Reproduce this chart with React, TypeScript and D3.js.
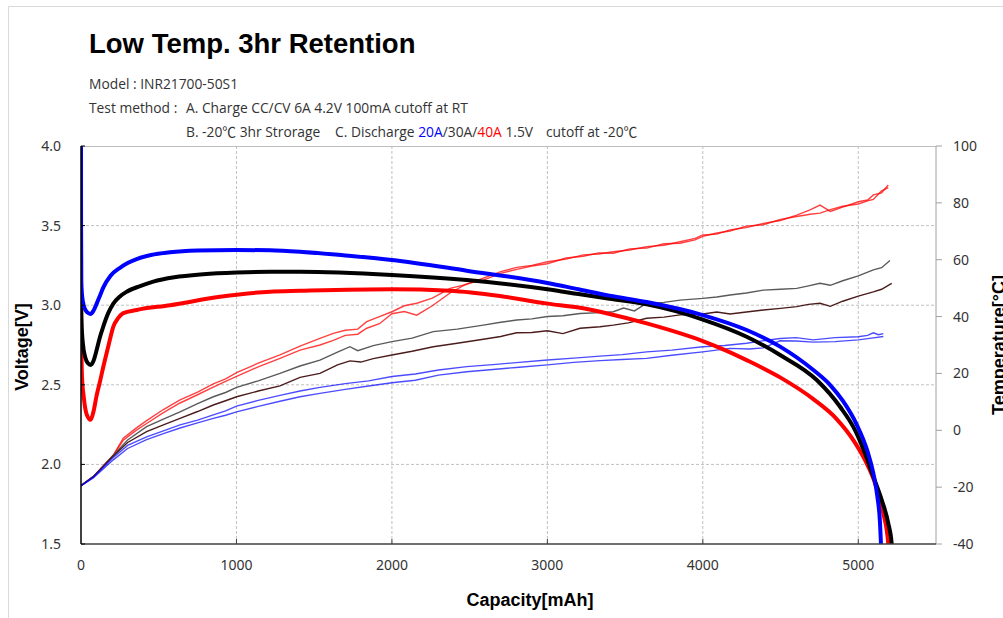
import React from "react";
import * as d3 from "d3";

// ---------- data ----------
const X_TICKS = [0, 1000, 2000, 3000, 4000, 5000];
const V_TICKS = [1.5, 2.0, 2.5, 3.0, 3.5, 4.0];
const T_TICKS = [-40, -20, 0, 20, 40, 60, 80, 100];

// Voltage [mAh, V]
const volt20A: [number, number][] = [
  [0, 4.0], [0.5, 3.5], [2, 3.15], [8, 3.05], [20, 2.99], [40, 2.955], [62, 2.945], [80, 2.965],
  [101, 3.01], [122, 3.06], [143, 3.11], [190, 3.185], [251, 3.235], [300, 3.265], [358, 3.29],
  [450, 3.315], [573, 3.332], [750, 3.343], [1000, 3.347], [1216, 3.345], [1409, 3.336],
  [1700, 3.312], [2000, 3.284], [2481, 3.217], [3000, 3.14], [3200, 3.1], [3400, 3.06],
  [3639, 3.02], [4000, 2.938], [4282, 2.844], [4497, 2.74], [4711, 2.593], [4818, 2.5],
  [4900, 2.4], [4990, 2.25], [5060, 2.08], [5097, 1.944], [5123, 1.797], [5140, 1.63],
  [5146, 1.5], [5150, 1.42],
];
const volt30A: [number, number][] = [
  [0, 3.04], [3, 2.9], [12, 2.76], [28, 2.67], [45, 2.635], [62, 2.625], [80, 2.65],
  [101, 2.72], [122, 2.8], [143, 2.865], [175, 2.95], [208, 3.01], [250, 3.055], [294, 3.085],
  [380, 3.12], [465, 3.148], [600, 3.175], [787, 3.194], [1000, 3.205], [1216, 3.21],
  [1409, 3.21], [2000, 3.19], [2481, 3.158], [3000, 3.1], [3200, 3.07], [3400, 3.04],
  [3639, 3.005], [4000, 2.91], [4282, 2.802], [4497, 2.687], [4733, 2.53], [4883, 2.362],
  [4979, 2.216], [5043, 2.07], [5097, 1.923], [5151, 1.776], [5193, 1.63], [5215, 1.5],
  [5220, 1.42],
];
const volt40A: [number, number][] = [
  [0, 3.06], [2, 2.8], [6, 2.56], [18, 2.42], [38, 2.31], [62, 2.28], [80, 2.33], [100, 2.43],
  [122, 2.52], [145, 2.62], [165, 2.7], [185, 2.78], [208, 2.865], [240, 2.92], [272, 2.95],
  [358, 2.97], [573, 3.0], [894, 3.053], [1216, 3.085], [1409, 3.09], [2000, 3.1],
  [2374, 3.091], [2695, 3.058], [3000, 3.01], [3200, 2.985], [3400, 2.945], [3639, 2.886],
  [3800, 2.84], [4000, 2.775], [4150, 2.715], [4282, 2.655], [4500, 2.545], [4711, 2.41],
  [4861, 2.285], [4968, 2.153], [5043, 2.028], [5108, 1.881], [5161, 1.693], [5193, 1.5],
  [5198, 1.42],
];

// Temperature [mAh, °C]
const temp40A_a: [number, number][] = [
  [0, -19.5], [79, -16.3], [208, -8.7], [272, -2.8], [350, 0.6], [422, 3.4], [530, 7.3],
  [637, 10.7], [750, 13.4], [851, 16.3], [930, 18.1], [1001, 20.3], [1140, 23.6], [1280, 26.5],
  [1409, 29.6], [1537, 32.3], [1623, 34.1], [1700, 35.2], [1780, 35.6], [1838, 38.2],
  [1920, 40.0], [2000, 41.7], [2080, 43.8], [2160, 44.7], [2260, 46.5], [2374, 49.9],
  [2480, 51.3], [2588, 53.5], [2700, 55.8], [2803, 57.3], [2900, 58.0], [3000, 59.3],
  [3120, 60.2], [3231, 61.7], [3330, 62.0], [3424, 62.8], [3530, 63.4], [3639, 64.6],
  [3750, 65.1], [3853, 66.3], [3950, 67.5], [4000, 68.7], [4090, 69.0], [4175, 70.5],
  [4280, 71.3], [4389, 72.8], [4500, 73.8], [4604, 75.7], [4690, 77.5], [4754, 79.2],
  [4820, 77.0], [4900, 78.5], [5000, 80.4], [5060, 81.0], [5097, 82.8], [5150, 83.5], [5193, 86.3],
];
const temp40A_b: [number, number][] = [
  [0, -19.5], [79, -16.3], [208, -8.9], [272, -3.5], [350, -0.2], [422, 2.4], [530, 6.2],
  [637, 9.6], [750, 12.5], [851, 15.2], [930, 17.2], [1001, 19.0], [1140, 22.3], [1280, 25.3],
  [1409, 28.2], [1537, 30.0], [1623, 31.6], [1700, 33.4], [1780, 33.8], [1838, 35.9],
  [1920, 37.5], [2000, 41.0], [2080, 41.8], [2160, 40.5], [2260, 43.8], [2374, 48.3],
  [2480, 51.5], [2588, 52.8], [2700, 55.2], [2803, 56.6], [2900, 57.8], [3000, 58.6],
  [3120, 60.6], [3231, 61.2], [3330, 62.4], [3424, 62.3], [3530, 63.8], [3639, 64.1],
  [3750, 65.6], [3853, 65.8], [3950, 67.0], [4000, 68.2], [4090, 69.4], [4175, 70.1],
  [4280, 71.8], [4389, 72.3], [4500, 74.2], [4604, 75.2], [4690, 76.0], [4754, 76.4],
  [4820, 77.6], [4900, 78.8], [5000, 79.6], [5060, 80.7], [5097, 81.2], [5150, 84.2], [5193, 85.4],
];
const temp30A_a: [number, number][] = [
  [0, -19.5], [79, -16.3], [208, -8.8], [300, -3.4], [422, 1.3], [530, 3.9], [637, 6.5],
  [750, 9.4], [851, 11.8], [930, 13.3], [1001, 15.1], [1140, 17.4], [1280, 20.0], [1409, 22.6],
  [1537, 24.7], [1650, 27.5], [1730, 29.4], [1780, 28.0], [1880, 29.8], [2000, 31.2],
  [2130, 32.4], [2266, 34.7], [2420, 35.6], [2588, 37.0], [2700, 38.0], [2803, 38.8],
  [2900, 39.2], [3000, 40.0], [3100, 40.3], [3210, 41.1], [3339, 41.4], [3424, 41.7],
  [3490, 43.0], [3560, 42.0], [3639, 44.7], [3750, 45.0], [3853, 45.8], [4000, 46.4],
  [4090, 46.9], [4175, 47.6], [4280, 48.3], [4389, 49.3], [4500, 49.6], [4604, 49.9],
  [4680, 50.8], [4754, 51.7], [4820, 51.0], [4900, 52.6], [5000, 54.3], [5097, 56.4],
  [5150, 57.2], [5204, 59.7],
];
const temp30A_b: [number, number][] = [
  [0, -19.5], [79, -16.3], [208, -9.0], [300, -4.3], [422, -0.5], [530, 1.9], [637, 4.2],
  [750, 6.6], [851, 8.9], [930, 10.4], [1001, 11.8], [1140, 13.8], [1280, 15.6], [1409, 18.6],
  [1537, 20.0], [1650, 23.0], [1730, 24.4], [1800, 24.0], [1880, 25.2], [2000, 26.5],
  [2130, 27.8], [2266, 29.4], [2420, 30.6], [2588, 32.0], [2700, 33.0], [2803, 34.3],
  [2900, 34.4], [3000, 35.0], [3100, 34.0], [3210, 35.9], [3339, 36.4], [3424, 37.0],
  [3520, 37.8], [3639, 39.4], [3750, 39.8], [3853, 40.6], [4000, 40.9], [4090, 41.6],
  [4175, 40.9], [4280, 41.6], [4389, 42.3], [4500, 42.9], [4604, 43.5], [4680, 44.3],
  [4754, 44.7], [4820, 43.6], [4900, 45.4], [5000, 47.2], [5097, 48.7], [5150, 49.6],
  [5215, 51.7],
];
const temp20A_a: [number, number][] = [
  [0, -19.5], [79, -16.5], [208, -9.6], [300, -5.3], [422, -2.3], [530, -0.2], [637, 1.9],
  [750, 3.6], [851, 5.4], [930, 6.8], [1001, 8.5], [1140, 10.5], [1280, 12.3], [1409, 13.8],
  [1537, 15.1], [1700, 16.4], [1850, 17.4], [2000, 18.9], [2150, 19.8], [2300, 21.2],
  [2481, 22.4], [2650, 23.1], [2800, 23.8], [3000, 24.7], [3170, 25.4], [3339, 26.1],
  [3480, 26.6], [3639, 27.6], [3800, 28.2], [4000, 29.4], [4140, 29.8], [4282, 30.6],
  [4400, 31.6], [4497, 32.3], [4600, 32.6], [4711, 31.8], [4850, 32.6], [5000, 32.9],
  [5060, 33.4], [5097, 34.3], [5130, 33.6], [5161, 34.0],
];
const temp20A_b: [number, number][] = [
  [0, -19.5], [79, -16.8], [208, -10.4], [300, -6.4], [422, -3.3], [530, -1.2], [637, 0.8],
  [750, 2.6], [851, 4.2], [930, 5.3], [1001, 6.5], [1140, 8.4], [1280, 10.2], [1409, 11.8],
  [1537, 13.0], [1700, 14.4], [1850, 15.6], [2000, 16.7], [2150, 17.6], [2300, 19.4],
  [2481, 20.6], [2650, 21.4], [2800, 22.1], [3000, 23.0], [3170, 23.9], [3339, 24.5],
  [3480, 24.9], [3639, 25.3], [3800, 26.4], [4000, 27.6], [4175, 28.8], [4300, 28.6],
  [4389, 29.0], [4497, 31.5], [4600, 31.4], [4711, 31.0], [4850, 31.2], [5000, 31.8],
  [5097, 32.5], [5161, 33.0],
];

// ---------- layout ----------
const W = 1003;
const H = 618;
const L = 81;
const R = 936;
const T = 146;
const B = 544;

const x = d3.scaleLinear().domain([0, 5500]).range([L, R]);
const yV = d3.scaleLinear().domain([1.5, 4.0]).range([B, T]);
const yT = d3.scaleLinear().domain([-40, 100]).range([B, T]);

const vLine = d3
  .line<[number, number]>()
  .x((d) => x(d[0]))
  .y((d) => yV(d[1]))
  .curve(d3.curveMonotoneX);
const tLine = d3
  .line<[number, number]>()
  .x((d) => x(d[0]))
  .y((d) => yT(d[1]))
  .curve(d3.curveLinear);

const tickFont = "'Noto Sans', 'DejaVu Sans', sans-serif";
const subFont = "'Open Sans', 'Noto Sans CJK KR', sans-serif";
const boldFont = "'Liberation Sans', Arial, sans-serif";

const tempSeries = [
  { data: temp40A_a, color: "rgba(255,0,0,0.75)" },
  { data: temp40A_b, color: "rgba(255,0,0,0.75)" },
  { data: temp30A_a, color: "#5a5a5a" },
  { data: temp30A_b, color: "#4a1c1c" },
  { data: temp20A_a, color: "rgba(0,0,255,0.7)" },
  { data: temp20A_b, color: "rgba(0,0,255,0.7)" },
];
const voltSeries = [
  { data: volt40A, color: "#ff0000" },
  { data: volt30A, color: "#000000" },
  { data: volt20A, color: "#0000ff" },
];

export default function App() {
  return (
    <svg
      width={W}
      height={H}
      style={{ position: "absolute", left: 0, top: 0, background: "#fff" }}
    >
      <defs>
        <clipPath id="plotClip">
          <rect x={L} y={T - 2} width={R - L} height={B - T + 2} />
        </clipPath>
      </defs>
      <rect x={0} y={0} width={W} height={H} fill="#fff" />
      {/* outer frame */}
      <line x1={8.5} y1={6.5} x2={W} y2={6.5} stroke="#d9d9d9" />
      <line x1={8.5} y1={6.5} x2={8.5} y2={H} stroke="#d9d9d9" />

      {/* header */}
      <text x={89} y={53} fontFamily={boldFont} fontWeight="bold" fontSize={27.5} fill="#000">
        Low Temp. 3hr Retention
      </text>
      <g fontFamily={subFont} fontSize={13.8} fill="#333">
        <text x={89} y={89}>Model : INR21700-50S1</text>
        <text x={89} y={113}>Test method :</text>
        <text x={186} y={113}>A. Charge CC/CV 6A 4.2V 100mA cutoff at RT</text>
        <text x={186} y={137}>B. -20℃ 3hr Strorage</text>
        <text x={335} y={137}>
          C. Discharge <tspan fill="#0000ff">20A</tspan>/30A/<tspan fill="#ff0000">40A</tspan> 1.5V
        </text>
        <text x={546} y={137}>cutoff at -20℃</text>
      </g>

      {/* grid */}
      <g stroke="#c0c0c0" strokeDasharray="3,2" strokeWidth={1}>
        {X_TICKS.filter((t) => t > 0).map((t) => (
          <line key={"gx" + t} x1={x(t)} x2={x(t)} y1={T} y2={B} />
        ))}
        {V_TICKS.filter((t) => t > 1.5 && t < 4.0).map((t) => (
          <line key={"gy" + t} x1={L} x2={R} y1={yV(t)} y2={yV(t)} />
        ))}
      </g>

      {/* frame of plot */}
      <line x1={L} x2={R} y1={T + 0.5} y2={T + 0.5} stroke="#bfbfbf" />
      <line x1={R} x2={R} y1={T} y2={B} stroke="#a0a0a0" />

      {/* temperature lines */}
      <g clipPath="url(#plotClip)" fill="none">
        {tempSeries.map((s, i) => (
          <path key={"t" + i} d={tLine(s.data) || ""} stroke={s.color} strokeWidth={1.4} />
        ))}
      </g>
      {/* voltage lines */}
      <g clipPath="url(#plotClip)" fill="none">
        {voltSeries.map((s, i) => (
          <path key={"v" + i} d={vLine(s.data) || ""} stroke={s.color} strokeWidth={4} strokeLinejoin="round" />
        ))}
      </g>

      {/* axes */}
      <line x1={L} x2={L} y1={T} y2={B} stroke="#000" strokeWidth={1.5} />
      <line x1={L} x2={R} y1={B} y2={B} stroke="#404040" strokeWidth={1.5} />
      <g stroke="#404040">
        {X_TICKS.map((t) => (
          <line key={"xt" + t} x1={x(t)} x2={x(t)} y1={B} y2={B - 5} />
        ))}
      </g>
      <g stroke="#000">
        {V_TICKS.map((t) => (
          <line key={"vt" + t} x1={L} x2={L + 4} y1={yV(t)} y2={yV(t)} />
        ))}
      </g>
      <g stroke="#a0a0a0">
        {T_TICKS.map((t) => (
          <line key={"tt" + t} x1={R} x2={R + 6} y1={yT(t)} y2={yT(t)} />
        ))}
      </g>

      {/* tick labels */}
      <g fontFamily={tickFont} fontSize={14} fill="#333">
        {X_TICKS.map((t) => (
          <text key={"xl" + t} x={x(t)} y={570} textAnchor="middle">
            {String(t)}
          </text>
        ))}
        {V_TICKS.map((t) => (
          <text key={"vl" + t} x={61} y={yV(t) + 5} textAnchor="end">
            {d3.format(".1f")(t)}
          </text>
        ))}
        {T_TICKS.map((t) => (
          <text key={"tl" + t} x={953} y={yT(t) + 5} textAnchor="start">
            {String(t)}
          </text>
        ))}
      </g>

      {/* axis titles */}
      <text
        x={530}
        y={606}
        textAnchor="middle"
        fontFamily={boldFont}
        fontWeight="bold"
        fontSize={18}
        fill="#000"
      >
        Capacity[mAh]
      </text>
      <text
        transform="translate(28,347) rotate(-90)"
        textAnchor="middle"
        fontFamily={boldFont}
        fontWeight="bold"
        fontSize={18}
        fill="#000"
      >
        Voltage[V]
      </text>
      <text
        transform="translate(1005,345) rotate(-90)"
        textAnchor="middle"
        fontFamily={boldFont}
        fontWeight="bold"
        fontSize={18}
        fill="#000"
      >
        Temperature[°C]
      </text>
    </svg>
  );
}
